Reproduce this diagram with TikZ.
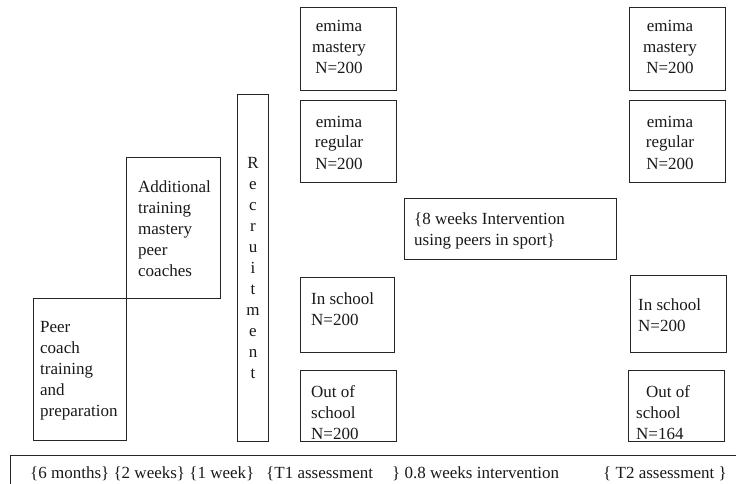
\documentclass[tikz,border=0pt]{standalone}
\usepackage{fontspec}
\setmainfont{Liberation Serif}
\begin{document}
\begin{tikzpicture}[x=1pt,y=-1pt,
  box/.style={draw=black!85, line width=1pt, rectangle},
  txt/.style={inner sep=0pt, font=\fontsize{17}{21}\selectfont, text=black!90},
  ltxt/.style={txt, align=left, anchor=base west},
  ctxt/.style={txt, align=center, anchor=base}]
\useasboundingbox (0,0) rectangle (736,484);
\clip (0,0) rectangle (736,484);
% boxes
\draw[box] (33,298) rectangle (126,440);
\draw[box] (126,157) rectangle (220,298);
\draw[box] (237,95) rectangle (268,441);
\draw[box] (300,8) rectangle (396,91);
\draw[box] (300,101) rectangle (396,182);
\draw[box] (404,198) rectangle (616,259);
\draw[box] (300,277) rectangle (394,352);
\draw[box] (300,370) rectangle (396,441);
\draw[box] (629,8) rectangle (725,91);
\draw[box] (629,101) rectangle (725,182);
\draw[box] (630,275) rectangle (726,352);
\draw[box] (628,370) rectangle (724,441);
\draw[box] (10,455) rectangle (745,495);
% texts
\node[ltxt] (tpeer) at (40,416) {Peer\\coach\\training\\and\\preparation};
\node[ltxt] (tadd) at (138,276) {Additional\\training\\mastery\\peer\\coaches};
\node[ctxt] (trec) at (253,378) {R\\e\\c\\r\\u\\i\\t\\m\\e\\n\\t};
\node[ctxt] (tem1) at (339,74) {emima\\mastery\\N=200};
\node[ctxt] (ter1) at (339,169) {emima\\regular\\N=200};
\node[ltxt] (tint) at (414,245) {\{8 weeks Intervention\\using peers in sport\}};
\node[ltxt] (tis1) at (311,325) {In school\\N=200};
\node[ltxt] (tos1) at (311,439) {Out of\\school\\N=200};
\node[ctxt] (tem2) at (670,74) {emima\\mastery\\N=200};
\node[ctxt] (ter2) at (670,169) {emima\\regular\\N=200};
\node[ltxt] (tis2) at (638,331) {In school\\N=200};
\node[ltxt] (tos2) at (636,439) {\hspace{10pt}Out of\\school\\N=164};
\node[ltxt] (tb1) at (30,478) {\{6 months\} \{2 weeks\} \{1 week\}};
\node[ltxt] (tb2) at (266,478) {\{T1 assessment};
\node[ltxt] (tb3) at (392,478) {\} 0.8 weeks intervention};
\node[ltxt] (tb4) at (603,478) {\{ T2 assessment \}};
\end{tikzpicture}
\end{document}
